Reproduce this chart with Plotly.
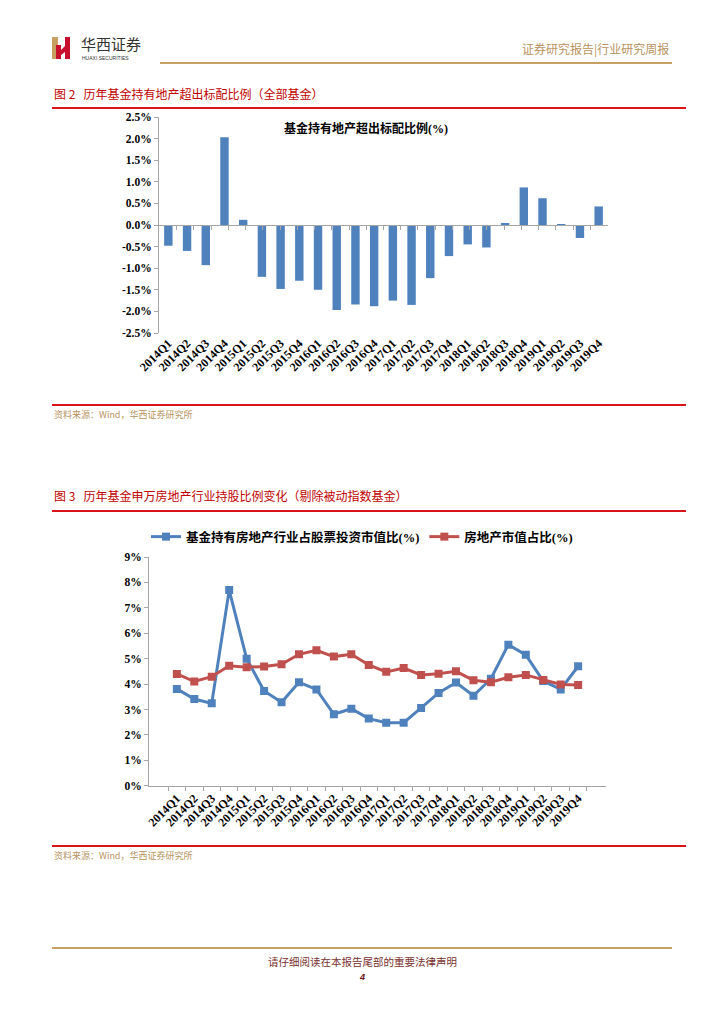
import plotly.graph_objects as go

quarters = ["2014Q1", "2014Q2", "2014Q3", "2014Q4", "2015Q1", "2015Q2", "2015Q3", "2015Q4",
            "2016Q1", "2016Q2", "2016Q3", "2016Q4", "2017Q1", "2017Q2", "2017Q3", "2017Q4",
            "2018Q1", "2018Q2", "2018Q3", "2018Q4", "2019Q1", "2019Q2", "2019Q3", "2019Q4"]

excess_ratio = [-0.48, -0.60, -0.93, 2.03, 0.12, -1.20, -1.48, -1.29,
                -1.50, -1.97, -1.84, -1.88, -1.75, -1.85, -1.23, -0.72,
                -0.45, -0.52, 0.04, 0.87, 0.62, 0.01, -0.30, 0.43]

fund_share = [3.81, 3.41, 3.24, 7.70, 5.00, 3.73, 3.28, 4.07,
              3.79, 2.81, 3.03, 2.64, 2.48, 2.48, 3.06, 3.65,
              4.06, 3.54, 4.21, 5.55, 5.15, 4.12, 3.79, 4.70]

market_share = [4.40, 4.10, 4.29, 4.72, 4.66, 4.69, 4.78, 5.17,
                5.33, 5.08, 5.17, 4.75, 4.48, 4.63, 4.36, 4.41,
                4.50, 4.15, 4.07, 4.27, 4.36, 4.16, 3.98, 3.96]

y1_ticks = [-2.5, -2.0, -1.5, -1.0, -0.5, 0.0, 0.5, 1.0, 1.5, 2.0, 2.5]
y2_ticks = [0, 1, 2, 3, 4, 5, 6, 7, 8, 9]

W, H = 724, 1024
def px(x):
    return x / W
def py(y):
    return 1 - y / H

BLUE = "#4F81BD"
RED = "#C0504D"
AXIS = "#A6A6A6"
SERIF = "Liberation Serif, Times New Roman, Noto Sans CJK SC"
CJK = "Noto Sans CJK SC"
TITLE_RED = "#C00000"

fig = go.Figure()

# Chart 1 bars
fig.add_trace(go.Bar(x=quarters, y=excess_ratio, marker=dict(color=BLUE, line=dict(width=0)),
                     xaxis="x", yaxis="y", showlegend=False, width=0.45, hoverinfo="x+y"))
# invisible trace for the zero-line tick axis
fig.add_trace(go.Scatter(x=quarters, y=[0] * len(quarters), xaxis="x3", yaxis="y",
                         mode="markers", marker=dict(opacity=0), showlegend=False, hoverinfo="skip"))

# Chart 2 lines
fig.add_trace(go.Scatter(x=quarters, y=fund_share, mode="lines+markers",
                         name="基金持有房地产行业占股票投资市值比(%)",
                         line=dict(color=BLUE, width=3), marker=dict(symbol="square", size=8, color=BLUE),
                         xaxis="x2", yaxis="y2"))
fig.add_trace(go.Scatter(x=quarters, y=market_share, mode="lines+markers",
                         name="房地产市值占比(%)",
                         line=dict(color=RED, width=3), marker=dict(symbol="square", size=8, color=RED),
                         xaxis="x2", yaxis="y2"))

tickfont = dict(family=SERIF, size=11.5, color="#000000", weight="bold")
xtickfont = dict(family=SERIF, size=12, color="#000000", weight="bold")

y1_dom = [py(333), py(117)]
y2_dom = [py(785.7), py(557)]
zero_pos = y1_dom[0] + (y1_dom[1] - y1_dom[0]) * 0.5

fig.update_layout(
    template="none",
    width=W, height=H, autosize=False,
    margin=dict(l=0, r=0, t=0, b=0, pad=0),
    paper_bgcolor="white", plot_bgcolor="rgba(0,0,0,0)",
    bargap=0.5,
    hovermode="closest",
    xaxis=dict(domain=[px(159), px(608)], anchor="y", type="category", automargin=False,
               showline=False, ticks="", tickangle=-45,
               tickfont=xtickfont, showgrid=False, zeroline=False),
    xaxis3=dict(domain=[px(159), px(608)], anchor="free", overlaying="x", position=zero_pos,
                type="category", showline=True, linecolor=AXIS, linewidth=1, automargin=False,
                ticks="outside", ticklen=4, tickcolor=AXIS, tickson="boundaries",
                showticklabels=False, showgrid=False, zeroline=False),
    yaxis=dict(domain=y1_dom, anchor="x", range=[-2.5, 2.5], tickvals=y1_ticks, automargin=False,
               ticktext=[f"{v:.1f}%" for v in y1_ticks], showline=True, linecolor=AXIS,
               ticks="outside", ticklen=4, tickcolor=AXIS, showgrid=False, zeroline=False,
               tickfont=tickfont),
    xaxis2=dict(domain=[px(149), px(606)], anchor="y2", type="category", automargin=False,
                showline=True, linecolor=AXIS, ticks="outside", ticklen=4, tickcolor=AXIS,
                tickson="boundaries", tickangle=-45,
                tickfont=xtickfont, showgrid=False, zeroline=False),
    yaxis2=dict(domain=y2_dom, anchor="x2", range=[0, 9], tickvals=y2_ticks, automargin=False,
                ticktext=[f"{v}%" for v in y2_ticks], showline=True, linecolor=AXIS,
                ticks="outside", ticklen=4, tickcolor=AXIS, showgrid=False, zeroline=False,
                tickfont=tickfont),
    legend=dict(orientation="h", x=0.5, xanchor="center", y=py(522), yanchor="top",
                font=dict(family=SERIF, size=12.5, color="#000", weight="bold"),
                bgcolor="rgba(0,0,0,0)", borderwidth=0),
)

shapes = []
annotations = []

# header gold line
shapes.append(dict(type="line", xref="paper", yref="paper", x0=px(160), x1=px(672), y0=py(63), y1=py(63),
                   line=dict(color="#C9A063", width=2)))
# logo
shapes.append(dict(type="path", xref="paper", yref="paper",
                   path=f"M {px(52)},{py(59)} L {px(52)},{py(37)} L {px(58)},{py(37)} L {px(58)},{py(59)} Z",
                   fillcolor="#C9A063", line=dict(width=0)))
shapes.append(dict(type="path", xref="paper", yref="paper",
                   path=(f"M {px(56)},{py(59)} L {px(56)},{py(45)} L {px(61)},{py(45)} L {px(61)},{py(50)} "
                         f"L {px(65)},{py(46)} L {px(65)},{py(37)} L {px(70)},{py(37)} L {px(70)},{py(59)} "
                         f"L {px(65)},{py(59)} L {px(65)},{py(52)} L {px(61)},{py(55)} L {px(61)},{py(59)} Z"),
                   fillcolor="#C8102E", line=dict(width=0)))
annotations.append(dict(text="华西证券", x=px(79), y=py(43), xref="paper", yref="paper",
                        xanchor="left", yanchor="middle", showarrow=False,
                        font=dict(family=CJK, size=15, color="#333")))
annotations.append(dict(text="HUAXI SECURITIES", x=px(80), y=py(57.5), xref="paper", yref="paper",
                        xanchor="left", yanchor="middle", showarrow=False,
                        font=dict(family="Liberation Sans", size=5, color="#333")))
annotations.append(dict(text="证券研究报告|行业研究周报", x=px(671), y=py(49), xref="paper", yref="paper",
                        xanchor="right", yanchor="middle", showarrow=False,
                        font=dict(family=CJK, size=12, color="#B8935F")))

# Figure 2 title and rules
annotations.append(dict(text="图 2   历年基金持有地产超出标配比例（全部基金）", x=px(52), y=py(93), xref="paper", yref="paper",
                        xanchor="left", yanchor="middle", showarrow=False,
                        font=dict(family=CJK, size=12, color=TITLE_RED)))
shapes.append(dict(type="line", xref="paper", yref="paper", x0=px(52), x1=px(686), y0=py(108), y1=py(108),
                   line=dict(color="#D9141B", width=2)))
annotations.append(dict(text="基金持有地产超出标配比例(%)", x=px(366), y=py(128), xref="paper", yref="paper",
                        xanchor="center", yanchor="middle", showarrow=False,
                        font=dict(family=SERIF, size=12, color="#000", weight="bold")))
shapes.append(dict(type="line", xref="paper", yref="paper", x0=px(52), x1=px(686), y0=py(405), y1=py(405),
                   line=dict(color="#D9141B", width=2)))
annotations.append(dict(text="资料来源：Wind，华西证券研究所", x=px(52), y=py(414), xref="paper", yref="paper",
                        xanchor="left", yanchor="middle", showarrow=False,
                        font=dict(family=CJK, size=9, color="#B8935F")))

# Figure 3 title and rules
annotations.append(dict(text="图 3   历年基金申万房地产行业持股比例变化（剔除被动指数基金）", x=px(52), y=py(495), xref="paper", yref="paper",
                        xanchor="left", yanchor="middle", showarrow=False,
                        font=dict(family=CJK, size=12, color=TITLE_RED)))
shapes.append(dict(type="line", xref="paper", yref="paper", x0=px(52), x1=px(686), y0=py(511), y1=py(511),
                   line=dict(color="#D9141B", width=2)))
shapes.append(dict(type="line", xref="paper", yref="paper", x0=px(52), x1=px(686), y0=py(846), y1=py(846),
                   line=dict(color="#D9141B", width=2)))
annotations.append(dict(text="资料来源：Wind，华西证券研究所", x=px(52), y=py(855), xref="paper", yref="paper",
                        xanchor="left", yanchor="middle", showarrow=False,
                        font=dict(family=CJK, size=9, color="#B8935F")))

# footer
shapes.append(dict(type="line", xref="paper", yref="paper", x0=px(52), x1=px(672), y0=py(948), y1=py(948),
                   line=dict(color="#C9A063", width=2)))
annotations.append(dict(text="请仔细阅读在本报告尾部的重要法律声明", x=px(362), y=py(961), xref="paper", yref="paper",
                        xanchor="center", yanchor="middle", showarrow=False,
                        font=dict(family=CJK, size=10.5, color="#7A3030")))
annotations.append(dict(text="<b><i>4</i></b>", x=px(362), y=py(977), xref="paper", yref="paper",
                        xanchor="center", yanchor="middle", showarrow=False,
                        font=dict(family="Liberation Sans", size=9, color="#6B0F0F")))

fig.update_layout(shapes=shapes, annotations=annotations)

fig.write_html("out.html", config={"displayModeBar": False},
               post_script="document.body.style.margin='0';")
